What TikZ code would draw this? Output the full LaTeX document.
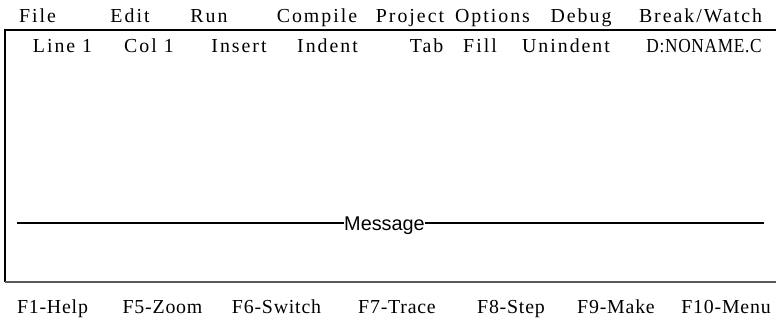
\documentclass[tikz,border=0pt]{standalone}
\usepackage{fontspec}
\setmainfont{Liberation Serif}[LetterSpace=10]
\newfontfamily\keyfont{Liberation Serif}[LetterSpace=4]
\newfontfamily\msgfont{Liberation Sans}
\begin{document}
\begin{tikzpicture}[x=0.02cm, y=-0.02cm,
    menu/.style={anchor=base, inner sep=0pt, font=\fontsize{11.3pt}{13pt}\selectfont},
    fkey/.style={menu, font=\keyfont\fontsize{11.3pt}{13pt}\selectfont},
    frameline/.style={line width=0.85pt, black},
    bottomline/.style={line width=1.4pt, black!65}]
    \useasboundingbox (0,0) rectangle (776,320);

    % --- Menu bar ---
    \node[menu] (mfile) at (37.5, 23) {File};
    \node[menu] (medit) at (130, 23) {Edit};
    \node[menu] (mrun) at (209, 23) {Run};
    \node[menu] (mcompile) at (317, 23) {Compile};
    \node[menu] (mproject) at (410, 23) {Project};
    \node[menu] (moptions) at (492.5, 23) {Options};
    \node[menu] (mdebug) at (581, 23) {Debug};
    \node[menu] (mbreak) at (700.5, 23) {Break/Watch};

    % --- Edit window frame ---
    \draw[frameline] (776, 30) -- (5, 30) -- (5, 282);
    \draw[bottomline] (5, 282) -- (776, 282);

    % --- Status line ---
    \node[menu] (sline) at (62.5, 53) {Line 1};
    \node[menu] (scol) at (149, 53) {Col 1};
    \node[menu] (sinsert) at (239, 53) {Insert};
    \node[menu] (sindent) at (327.5, 53) {Indent};
    \node[menu] (stab) at (426.5, 53) {Tab};
    \node[menu] (sfill) at (480, 53) {Fill};
    \node[menu] (sunindent) at (566, 53) {Unindent};
    \node[fkey, xscale=0.87, transform shape] (sfile) at (704, 53) {D:NONAME.C};

    % --- Message window ---
    \node[anchor=base, inner sep=0pt, font=\msgfont\fontsize{11.3pt}{13pt}\selectfont]
        (msg) at (384.5, 231) {Message};
    \coordinate (msgL) at (17, 223);
    \coordinate (msgR) at (764, 223);
    \draw[frameline] (msgL) -- (msgL -| msg.west);
    \draw[frameline] (msgR -| msg.east) -- (msgR);

    % --- Function keys ---
    \node[fkey] (kfone) at (52.5, 313) {F1-Help};
    \node[fkey] (kffive) at (162.5, 313) {F5-Zoom};
    \node[fkey] (kfsix) at (276.5, 313) {F6-Switch};
    \node[fkey] (kfseven) at (397, 313) {F7-Trace};
    \node[fkey] (kfeight) at (511, 313) {F8-Step};
    \node[fkey] (kfnine) at (616, 313) {F9-Make};
    \node[fkey] (kften) at (726, 313) {F10-Menu};
\end{tikzpicture}
\end{document}
